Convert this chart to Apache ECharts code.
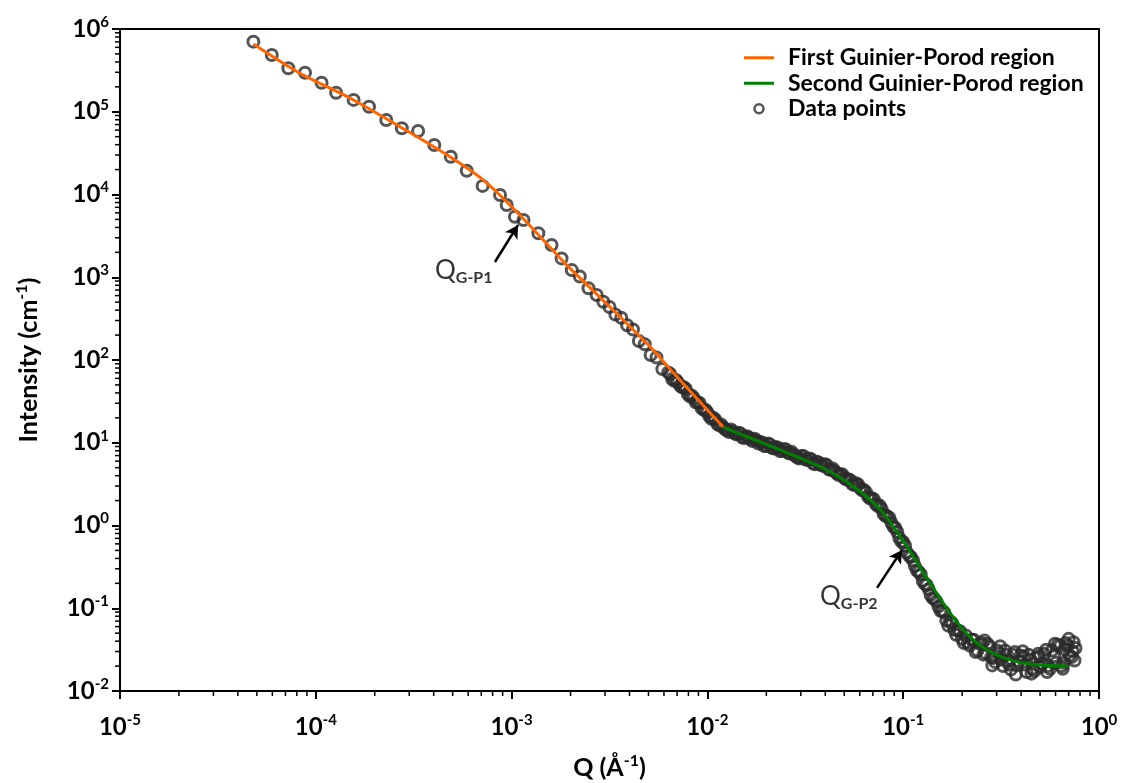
<!DOCTYPE html>
<html>
<head>
<meta charset="utf-8">
<script src="https://cdn.jsdelivr.net/npm/echarts@6/dist/echarts.min.js"></script>
<style>
body { margin: 0; background: #fff; }
#main { width: 1137px; height: 783px; }
</style>
</head>
<body>
<div id="main"></div>
<script>
// low-Q points (sparse)
var lowQ = [4.80e-5, 5.96e-5, 7.24e-5, 8.81e-5, 1.07e-4, 1.27e-4, 1.56e-4, 1.87e-4, 2.29e-4, 2.75e-4,
	3.33e-4, 4.03e-4, 4.89e-4, 5.90e-4, 7.11e-4, 8.73e-4, 9.44e-4, 1.04e-3, 1.15e-3, 1.37e-3,
	1.60e-3, 1.80e-3, 2.03e-3, 2.23e-3, 2.47e-3, 2.72e-3, 2.94e-3];
var lowI = [7.03e5, 4.85e5, 3.35e5, 2.96e5, 2.24e5, 1.70e5, 1.39e5, 1.15e5, 7.94e4, 6.31e4,
	5.85e4, 3.96e4, 2.86e4, 1.94e4, 1.27e4, 9.86e3, 7.46e3, 5.39e3, 4.92e3, 3.40e3,
	2.45e3, 1.69e3, 1.22e3, 1.02e3, 735, 610, 506];

// SAXS points (dense)
var midQ = [3.162e-3, 3.388e-3, 3.631e-3, 3.890e-3, 4.169e-3, 4.467e-3, 4.786e-3, 5.129e-3, 5.495e-3, 5.888e-3, 6.310e-3,
	6.607e-3, 6.918e-3, 7.244e-3, 7.586e-3, 7.943e-3, 8.318e-3, 8.710e-3, 9.120e-3, 9.550e-3, 1.000e-2,
	1.047e-2, 1.096e-2, 1.148e-2, 1.202e-2, 1.259e-2, 1.318e-2, 1.380e-2, 1.445e-2, 1.514e-2, 1.585e-2,
	1.660e-2, 1.738e-2, 1.820e-2, 1.905e-2, 1.995e-2, 2.089e-2, 2.188e-2, 2.291e-2, 2.399e-2, 2.512e-2,
	2.630e-2, 2.754e-2, 2.884e-2, 3.020e-2, 3.162e-2, 3.311e-2, 3.467e-2, 3.631e-2, 3.802e-2, 3.981e-2,
	4.169e-2, 4.365e-2, 4.571e-2, 4.786e-2, 5.012e-2, 5.248e-2, 5.495e-2, 5.754e-2, 6.026e-2, 6.310e-2,
	6.607e-2, 6.918e-2, 7.244e-2, 7.586e-2, 7.943e-2, 8.318e-2, 8.710e-2, 9.120e-2, 9.550e-2, 0.1000,
	0.1047, 0.1096, 0.1148, 0.1202, 0.1259, 0.1318, 0.1380, 0.1445, 0.1514, 0.1585,
	0.1660, 0.1738, 0.1820, 0.1905, 0.1995, 0.2089, 0.2188, 0.2291, 0.2399, 0.2512,
	0.2630, 0.2754, 0.2884, 0.3020, 0.3162, 0.3311, 0.3467, 0.3631, 0.3802, 0.3981,
	0.4169, 0.4365, 0.4571, 0.4786, 0.5012, 0.5248, 0.5495, 0.5754, 0.6026, 0.6310,
	0.6607, 0.6918, 0.7244, 0.7586];
var midI = [437, 355, 324, 263, 234, 170, 155, 115, 107, 77.6, 70.8,
	58.9, 57.5, 49.0, 46.8, 38.9, 37.2, 30.9, 30.2, 25.1, 23.4,
	19.5, 19.1, 16.2, 15.5, 14.1, 14.5, 12.9, 13.2, 11.5, 12.0,
	11.0, 11.2, 9.77, 10.0, 9.12, 9.55, 8.51, 8.71, 7.94, 8.32,
	7.41, 7.24, 6.61, 6.92, 6.31, 6.46, 5.62, 5.89, 5.37, 5.50,
	4.79, 4.90, 4.27, 4.17, 3.72, 3.63, 3.16, 3.24, 2.82, 2.69,
	2.24, 2.14, 1.82, 1.74, 1.38, 1.29, 1.07, 0.933, 0.708, 0.631,
	0.468, 0.417, 0.324, 0.275, 0.214, 0.191, 0.145, 0.129, 0.105, 0.0933,
	0.0708, 0.0692, 0.0550, 0.0537, 0.0427, 0.0468, 0.0355, 0.0417, 0.0309, 0.0380,
	0.0288, 0.0347, 0.0251, 0.0309, 0.0240, 0.0309, 0.0209, 0.0275, 0.0204, 0.0269,
	0.0209, 0.0275, 0.0186, 0.0251, 0.0195, 0.0282, 0.0200, 0.0309, 0.0219, 0.0347,
	0.0219, 0.0355, 0.0257, 0.0331];

// SAXS points in between (dense)
var mid2Q = [6.457e-3, 6.761e-3, 7.079e-3, 7.413e-3, 7.762e-3, 8.128e-3, 8.511e-3, 8.913e-3, 9.333e-3, 9.772e-3,
	1.023e-2, 1.072e-2, 1.122e-2, 1.175e-2, 1.230e-2, 1.288e-2, 1.349e-2, 1.413e-2, 1.479e-2, 1.549e-2,
	1.622e-2, 1.698e-2, 1.778e-2, 1.862e-2, 1.950e-2, 2.042e-2, 2.138e-2, 2.239e-2, 2.344e-2, 2.455e-2,
	2.570e-2, 2.692e-2, 2.818e-2, 2.951e-2, 3.090e-2, 3.236e-2, 3.388e-2, 3.548e-2, 3.715e-2, 3.890e-2,
	4.074e-2, 4.266e-2, 4.467e-2, 4.677e-2, 4.898e-2, 5.129e-2, 5.370e-2, 5.623e-2, 5.888e-2, 6.166e-2,
	6.457e-2, 6.761e-2, 7.079e-2, 7.413e-2, 7.762e-2, 8.128e-2, 8.511e-2, 8.913e-2, 9.333e-2, 9.772e-2,
	0.1023, 0.1072, 0.1122, 0.1175, 0.1230, 0.1288, 0.1349, 0.1413, 0.1479, 0.1549,
	0.1622, 0.1778, 0.1950, 0.2138];
var mid2I = [67.6, 56.2, 53.7, 46.8, 44.7, 36.3, 34.7, 30.9, 26.3, 25.1,
	20.9, 20.0, 17.0, 16.6, 14.5, 13.5, 13.8, 12.6, 12.9, 11.5,
	11.7, 10.5, 10.7, 10.2, 9.12, 9.77, 8.71, 8.91, 7.94, 8.32,
	7.59, 7.76, 6.92, 6.46, 6.92, 6.17, 6.31, 5.50, 5.75, 5.25,
	5.37, 4.68, 4.57, 4.07, 4.12, 3.59, 3.52, 3.08, 3.13, 2.67,
	2.52, 2.12, 2.07, 1.72, 1.59, 1.30, 1.23, 0.966, 0.836, 0.641,
	0.571, 0.431, 0.378, 0.286, 0.256, 0.197, 0.171, 0.133, 0.121, 0.0933,
	0.0889, 0.0661, 0.0528, 0.0382];

// high-Q scatter (noisy tail)
var tailQ = [0.1698, 0.1862, 0.2042, 0.2239, 0.2344, 0.2570, 0.2692, 0.2951, 0.3090, 0.3236,
	0.3388, 0.3548, 0.3715, 0.3890, 0.4074, 0.4266, 0.4467, 0.4677, 0.4898, 0.5129,
	0.5370, 0.5623, 0.5888, 0.6166, 0.6457, 0.6761, 0.7079, 0.7413,
	0.2455, 0.2600, 0.2818, 0.2851, 0.3126, 0.3428, 0.3758, 0.4121, 0.4519, 0.4955,
	0.5433, 0.5957, 0.6531, 0.6683, 0.6998, 0.7328, 0.7499];
var tailI = [0.0617, 0.0479, 0.0380, 0.0417, 0.0295, 0.0275, 0.0372, 0.0224, 0.0288, 0.0200,
	0.0275, 0.0182, 0.0295, 0.0229, 0.0302, 0.0170, 0.0240, 0.0174, 0.0282, 0.0214,
	0.0316, 0.0186, 0.0263, 0.0363, 0.0200, 0.0380, 0.0269, 0.0389,
	0.0372, 0.0407, 0.0257, 0.0204, 0.0347, 0.0229, 0.0158, 0.0257, 0.0162, 0.0263,
	0.0170, 0.0372, 0.0186, 0.0316, 0.0427, 0.0302, 0.0234];

// fits
var fit1Q = [4.80e-5, 8.30e-5, 1.50e-4, 2.69e-4, 4.84e-4, 7.16e-4, 1.10e-3, 1.91e-3, 3.30e-3, 4.90e-3, 7.24e-3, 1.20e-2];
var fit1I = [6.6e5, 2.92e5, 1.455e5, 6.59e4, 2.86e4, 1.50e4, 5.65e3, 1.41e3, 402, 159, 57.3, 15.6];
var fit2Q = [1.20e-2, 1.92e-2, 2.87e-2, 3.89e-2, 5.16e-2, 6.53e-2, 7.89e-2, 9.29e-2, 0.108, 0.126,
	0.149, 0.180, 0.219, 0.268, 0.339, 0.445, 0.695];
var fit2I = [15.5, 9.93, 6.73, 4.95, 3.36, 2.21, 1.42, 0.834, 0.492, 0.274,
	0.149, 0.0783, 0.0450, 0.0313, 0.0244, 0.0212, 0.0200];

// annotations: label anchor, arrow tail, arrow head
var noteText = ['G-P1', 'G-P2'];
var noteAt = [[4.06e-4, 1.19e3], [3.76e-2, 0.137]];
var arrowFrom = [[8.22e-4, 1.53e3], [7.35e-2, 0.176]];
var arrowTo = [[1.079e-3, 4.28e3], [9.86e-2, 0.506]];

var xMin = 1e-5, xMax = 1, yMin = 1e-2, yMax = 1e6;

function pairs(a, b) {
	var out = [];
	for (var i = 0; i < a.length; i++) out.push([a[i], b[i]]);
	return out;
}

// minor tick positions 2..9 x 10^n
function minorTicks(lo, hi) {
	var out = [];
	for (var e = lo; e < hi; e++) {
		for (var k = 2; k <= 9; k++) out.push(k * Math.pow(10, e));
	}
	return out;
}

var FONT = 'Lato';
var labelRich = {
	b: { fontFamily: FONT, fontWeight: 'bold', fontSize: 24, color: '#000', lineHeight: 28 },
	s: { fontFamily: FONT, fontWeight: 'bold', fontSize: 15, color: '#000', lineHeight: 15, padding: [0, 0, 14, 0] }
};
var nameRich = {
	n: { fontFamily: FONT, fontWeight: 'bold', fontSize: 25, color: '#000', lineHeight: 30 },
	s: { fontFamily: FONT, fontWeight: 'bold', fontSize: 16, color: '#000', lineHeight: 16, padding: [0, 0, 15, 0] }
};
function powLabel(v) {
	var e = Math.round(Math.log10(v));
	return '{b|10}{s|' + e + '}';
}

var points = pairs(lowQ, lowI).concat(pairs(midQ, midI), pairs(mid2Q, mid2I), pairs(tailQ, tailI));

var notes = [];
for (var i = 0; i < noteAt.length; i++) {
	notes.push({ value: noteAt[i], text: noteText[i] });
}
var arrows = [];
for (var i = 0; i < arrowFrom.length; i++) {
	arrows.push([{ coord: arrowFrom[i] }, { coord: arrowTo[i] }]);
}

// legend line icon: thin bar inside a 30x9 box
var lineIcon = 'path://M0,0 M30,9 M0,3 L30,3 L30,6 L0,6 Z';

var chart = echarts.init(document.getElementById('main'));
var option = {
	animation: false,
	backgroundColor: '#fff',
	grid: {
		left: 120, right: 38, top: 29, bottom: 92,
		outerBoundsMode: 'none', containLabel: false,
		show: true, borderColor: '#000', borderWidth: 2, backgroundColor: 'transparent'
	},
	legend: {
		orient: 'vertical',
		left: 739, top: 40,
		itemWidth: 30, itemHeight: 9, itemGap: 0,
		textStyle: { fontFamily: FONT, fontWeight: 'bold', fontSize: 23, color: '#000', lineHeight: 25.5, padding: [0, 0, 0, 9] },
		data: [
			{ name: 'First Guinier-Porod region', icon: lineIcon },
			{ name: 'Second Guinier-Porod region', icon: lineIcon },
			{ name: 'Data points', icon: 'circle', itemStyle: { color: 'transparent', borderColor: '#2b2b2b', borderWidth: 2.5 } }
		]
	},
	xAxis: {
		type: 'log', logBase: 10, min: xMin, max: xMax, interval: 1, splitNumber: 5,
		splitLine: { show: false },
		axisLine: { lineStyle: { color: '#000', width: 2 } },
		axisTick: { length: 8, lineStyle: { color: '#000', width: 2 } },
		axisLabel: { margin: 22, formatter: powLabel, rich: labelRich },
		name: '{n|Q (Å}{s|-1}{n|)}',
		nameLocation: 'middle', nameGap: 62,
		nameTextStyle: { rich: nameRich }
	},
	yAxis: {
		type: 'log', logBase: 10, min: yMin, max: yMax, interval: 1, splitNumber: 8,
		splitLine: { show: false },
		axisLine: { lineStyle: { color: '#000', width: 2 } },
		axisTick: { length: 8, lineStyle: { color: '#000', width: 2 } },
		axisLabel: { margin: 11, formatter: powLabel, rich: labelRich },
		name: '{n|Intensity (cm}{s|-1}{n|)}',
		nameLocation: 'middle', nameGap: 76,
		nameTextStyle: { rich: nameRich }
	},
	series: [
		{
			name: 'Data points',
			type: 'scatter',
			symbol: 'circle',
			symbolSize: 11,
			itemStyle: { color: 'transparent', borderColor: '#2b2b2b', borderWidth: 3 },
			data: points,
			z: 2
		},
		{
			name: 'First Guinier-Porod region',
			type: 'line',
			symbol: 'none',
			smooth: 0.3,
			lineStyle: { color: '#ff6600', width: 3 },
			itemStyle: { color: '#ff6600' },
			data: pairs(fit1Q, fit1I),
			z: 3
		},
		{
			name: 'Second Guinier-Porod region',
			type: 'line',
			symbol: 'none',
			smooth: 0.3,
			lineStyle: { color: '#008000', width: 3 },
			itemStyle: { color: '#008000' },
			data: pairs(fit2Q, fit2I),
			z: 3
		},
		{
			name: 'notes',
			type: 'scatter',
			symbolSize: 0,
			silent: true,
			data: notes,
			label: {
				show: true, position: 'right', distance: 0,
				formatter: function(p) { return '{q|Q}{u|' + p.data.text + '}'; },
				rich: {
					q: { fontFamily: FONT, fontSize: 26, color: '#000', lineHeight: 30 },
					u: { fontFamily: FONT, fontWeight: 'bold', fontSize: 16, color: '#000', lineHeight: 16, padding: [14, 0, 0, 0] }
				}
			},
			markLine: {
				silent: true,
				symbol: ['none', 'arrow'],
				symbolSize: [11, 13],
				label: { show: false },
				lineStyle: { color: '#000', width: 2.5, type: 'solid' },
				data: arrows
			},
			z: 4
		},
		{
			name: 'minorX',
			type: 'custom',
			silent: true,
			clip: false,
			data: minorTicks(-5, 0).map(function(v) { return [v, yMin]; }),
			renderItem: function(params, api) {
				var p = api.coord([api.value(0), api.value(1)]);
				return { type: 'line', shape: { x1: p[0], y1: p[1], x2: p[0], y2: p[1] + 5 },
					style: { stroke: '#000', lineWidth: 1.5 } };
			}
		},
		{
			name: 'minorY',
			type: 'custom',
			silent: true,
			clip: false,
			data: minorTicks(-2, 6).map(function(v) { return [xMin, v]; }),
			renderItem: function(params, api) {
				var p = api.coord([api.value(0), api.value(1)]);
				return { type: 'line', shape: { x1: p[0], y1: p[1], x2: p[0] - 5, y2: p[1] },
					style: { stroke: '#000', lineWidth: 1.5 } };
			}
		}
	]
};
chart.setOption(option);
</script>
</body>
</html>
